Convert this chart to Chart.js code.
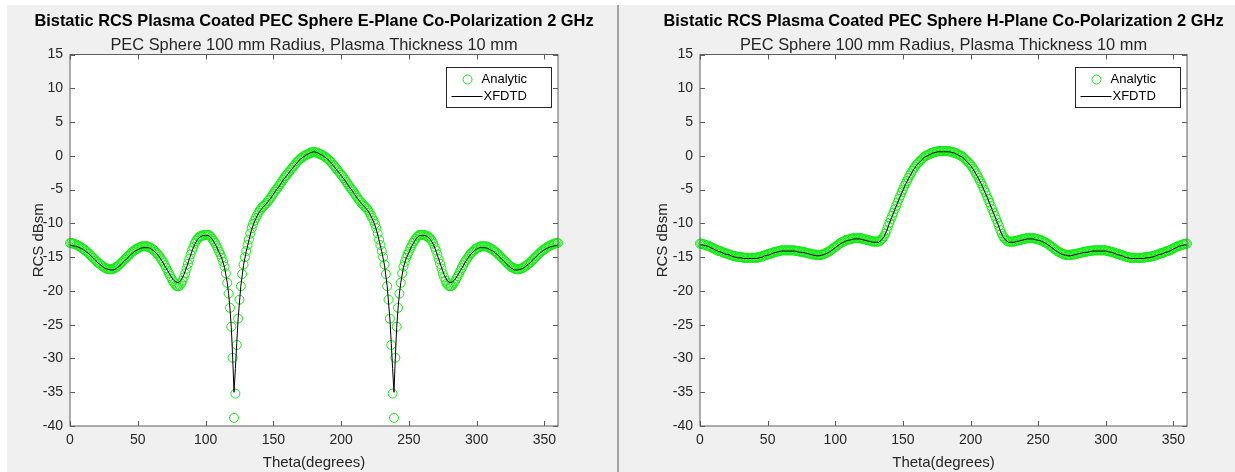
<!DOCTYPE html>
<html>
<head>
<meta charset="utf-8">
<title>Bistatic RCS Plasma Coated PEC Sphere</title>
<script src="https://cdn.jsdelivr.net/npm/chart.js@4.4.1/dist/chart.umd.min.js"></script>
<style>
  html, body { margin: 0; padding: 0; background: #ffffff; }
  body { position: relative; width: 1235px; height: 472px; overflow: hidden; }
  .panel { position: absolute; background: #f0f0f0; }
  #panelE { left: 7px; top: 5px; width: 610px; height: 467px; }
  #panelH { left: 619px; top: 5px; width: 616px; height: 467px; }
  #divider { position: absolute; left: 617px; top: 5px; width: 2px; height: 467px; background: #a3a3a3; }
  canvas { position: absolute; top: 0; }
  #chartE { left: 0; }
  #chartH { left: 617px; }
</style>
</head>
<body>
<div class="panel" id="panelE"></div>
<div id="divider"></div>
<div class="panel" id="panelH"></div>
<canvas id="chartE" width="617" height="472"></canvas>
<canvas id="chartH" width="618" height="472"></canvas>

<script>
// scattering angle, degrees (analytic solution is sampled every degree)
const thetaDeg = [
  0,1,2,3,4,5,6,7,8,9,10,11,12,13,14,15,16,17,18,19,
  20,21,22,23,24,25,26,27,28,29,30,31,32,33,34,35,36,37,38,39,
  40,41,42,43,44,45,46,47,48,49,50,51,52,53,54,55,56,57,58,59,
  60,61,62,63,64,65,66,67,68,69,70,71,72,73,74,75,76,77,78,79,
  80,81,82,83,84,85,86,87,88,89,90,91,92,93,94,95,96,97,98,99,
  100,101,102,103,104,105,106,107,108,109,110,111,112,113,114,115,116,117,118,119,
  120,121,122,123,124,125,126,127,128,129,130,131,132,133,134,135,136,137,138,139,
  140,141,142,143,144,145,146,147,148,149,150,151,152,153,154,155,156,157,158,159,
  160,161,162,163,164,165,166,167,168,169,170,171,172,173,174,175,176,177,178,179,
  180,181,182,183,184,185,186,187,188,189,190,191,192,193,194,195,196,197,198,199,
  200,201,202,203,204,205,206,207,208,209,210,211,212,213,214,215,216,217,218,219,
  220,221,222,223,224,225,226,227,228,229,230,231,232,233,234,235,236,237,238,239,
  240,241,242,243,244,245,246,247,248,249,250,251,252,253,254,255,256,257,258,259,
  260,261,262,263,264,265,266,267,268,269,270,271,272,273,274,275,276,277,278,279,
  280,281,282,283,284,285,286,287,288,289,290,291,292,293,294,295,296,297,298,299,
  300,301,302,303,304,305,306,307,308,309,310,311,312,313,314,315,316,317,318,319,
  320,321,322,323,324,325,326,327,328,329,330,331,332,333,334,335,336,337,338,339,
  340,341,342,343,344,345,346,347,348,349,350,351,352,353,354,355,356,357,358,359,
  360
];

// E-plane, analytic RCS (dBsm)
const analyticE = [
  -12.9,-12.9,-13.0,-13.0,-13.1,-13.2,-13.3,-13.4,-13.5,-13.7,
  -13.8,-14.0,-14.1,-14.3,-14.5,-14.7,-14.9,-15.1,-15.3,-15.5,
  -15.7,-15.9,-16.0,-16.2,-16.3,-16.5,-16.6,-16.7,-16.7,-16.8,
  -16.8,-16.8,-16.7,-16.6,-16.5,-16.4,-16.2,-16.0,-15.8,-15.6,
  -15.4,-15.2,-15.0,-14.8,-14.6,-14.4,-14.2,-14.1,-13.9,-13.8,
  -13.7,-13.6,-13.5,-13.4,-13.4,-13.4,-13.4,-13.4,-13.5,-13.6,
  -13.7,-13.8,-14.0,-14.2,-14.4,-14.6,-14.9,-15.2,-15.5,-15.8,
  -16.2,-16.6,-17.0,-17.4,-17.8,-18.2,-18.6,-18.9,-19.2,-19.3,
  -19.3,-19.2,-18.9,-18.5,-18.0,-17.4,-16.7,-16.0,-15.3,-14.6,
  -14.0,-13.5,-13.0,-12.6,-12.3,-12.1,-11.9,-11.9,-11.8,-11.7,
  -11.7,-11.7,-11.7,-11.8,-12.0,-12.3,-12.6,-12.9,-13.3,-13.7,
  -14.2,-14.6,-15.1,-15.7,-16.4,-17.4,-18.8,-20.4,-22.5,-25.3,
  -29.9,-38.8,-35.2,-28.0,-24.1,-21.3,-19.3,-17.5,-16.1,-15.0,
  -14.1,-13.2,-12.4,-11.5,-10.7,-10.1,-9.6,-9.2,-8.8,-8.4,
  -8.1,-7.8,-7.6,-7.4,-7.2,-7.0,-6.7,-6.5,-6.2,-5.9,
  -5.6,-5.3,-5.0,-4.8,-4.5,-4.2,-3.9,-3.6,-3.3,-3.0,
  -2.8,-2.5,-2.3,-2.0,-1.8,-1.5,-1.3,-1.0,-0.8,-0.6,
  -0.4,-0.3,-0.1,0.0,0.1,0.2,0.3,0.4,0.5,0.5,
  0.6,0.5,0.5,0.4,0.3,0.2,0.1,0.0,-0.1,-0.3,
  -0.4,-0.6,-0.8,-1.0,-1.3,-1.5,-1.8,-2.0,-2.3,-2.5,
  -2.8,-3.0,-3.3,-3.6,-3.9,-4.2,-4.5,-4.8,-5.0,-5.3,
  -5.6,-5.9,-6.2,-6.5,-6.7,-7.0,-7.2,-7.4,-7.6,-7.8,
  -8.1,-8.4,-8.8,-9.2,-9.6,-10.1,-10.7,-11.5,-12.4,-13.2,
  -14.1,-15.0,-16.1,-17.5,-19.3,-21.3,-24.1,-28.0,-35.2,-38.8,
  -29.9,-25.3,-22.5,-20.4,-18.8,-17.4,-16.4,-15.7,-15.1,-14.6,
  -14.2,-13.7,-13.3,-12.9,-12.6,-12.3,-12.0,-11.8,-11.7,-11.7,
  -11.7,-11.7,-11.8,-11.9,-11.9,-12.1,-12.3,-12.6,-13.0,-13.5,
  -14.0,-14.6,-15.3,-16.0,-16.7,-17.4,-18.0,-18.5,-18.9,-19.2,
  -19.3,-19.3,-19.2,-18.9,-18.6,-18.2,-17.8,-17.4,-17.0,-16.6,
  -16.2,-15.8,-15.5,-15.2,-14.9,-14.6,-14.4,-14.2,-14.0,-13.8,
  -13.7,-13.6,-13.5,-13.4,-13.4,-13.4,-13.4,-13.4,-13.5,-13.6,
  -13.7,-13.8,-13.9,-14.1,-14.2,-14.4,-14.6,-14.8,-15.0,-15.2,
  -15.4,-15.6,-15.8,-16.0,-16.2,-16.4,-16.5,-16.6,-16.7,-16.8,
  -16.8,-16.8,-16.7,-16.7,-16.6,-16.5,-16.3,-16.2,-16.0,-15.9,
  -15.7,-15.5,-15.3,-15.1,-14.9,-14.7,-14.5,-14.3,-14.1,-14.0,
  -13.8,-13.7,-13.5,-13.4,-13.3,-13.2,-13.1,-13.0,-13.0,-12.9,
  -12.9
];

// E-plane, XFDTD result (finer steps around the two nulls)
const thetaXfdtdE = [
  0,2,4,6,8,10,12,14,16,18,20,22,24,26,28,30,32,34,36,38,
  40,42,44,46,48,50,52,54,56,58,60,62,64,66,68,70,72,74,76,78,
  80,82,84,86,88,90,92,94,96,98,100,102,104,106,108,110,112,114,116,
  117,118,119,120,121,122,123,124,
  126,128,130,132,134,136,138,140,142,144,146,148,150,152,154,156,158,160,162,164,
  166,168,170,172,174,176,178,180,182,184,186,188,190,192,194,196,198,200,202,204,
  206,208,210,212,214,216,218,220,222,224,226,228,230,232,234,
  236,237,238,239,240,241,242,243,244,
  246,248,250,252,254,256,258,260,262,264,266,268,270,272,274,276,278,280,282,284,
  286,288,290,292,294,296,298,300,302,304,306,308,310,312,314,316,318,320,322,324,
  326,328,330,332,334,336,338,340,342,344,346,348,350,352,354,356,358,360
];
const xfdtdE = [
  -13.2,-13.3,-13.4,-13.5,-13.7,-13.9,-14.2,-14.5,-14.9,-15.3,
  -15.7,-16.1,-16.4,-16.7,-16.8,-16.9,-16.9,-16.7,-16.4,-16.0,
  -15.6,-15.2,-14.8,-14.4,-14.1,-13.9,-13.7,-13.6,-13.6,-13.6,
  -13.8,-14.1,-14.5,-15.0,-15.6,-16.3,-17.0,-17.7,-18.3,-18.7,
  -18.8,-18.4,-17.6,-16.5,-15.3,-14.1,-13.1,-12.4,-12.0,-11.8,
  -11.8,-11.8,-12.1,-12.7,-13.4,-14.3,-15.2,-16.5,-18.8,
  -20.4,-22.6,-25.4,-29.8,-35.0,-31.5,-27.8,-24.2,
  -19.3,-16.2,-14.2,-12.5,-10.9,-9.8,-8.9,-8.2,-7.7,-7.3,
  -6.8,-6.3,-5.7,-5.1,-4.6,-4.0,-3.4,-2.9,-2.4,-1.9,
  -1.4,-0.9,-0.5,-0.2,0.1,0.3,0.5,0.6,0.5,0.3,
  0.1,-0.2,-0.5,-0.9,-1.4,-1.9,-2.4,-2.9,-3.4,-4.0,
  -4.6,-5.1,-5.7,-6.3,-6.8,-7.3,-7.7,-8.2,-8.9,-9.8,
  -10.9,-12.5,-14.2,-16.2,-19.3,
  -24.2,-27.8,-31.5,-35.0,-29.8,-25.4,-22.6,-20.4,-18.8,
  -16.5,-15.2,-14.3,-13.4,-12.7,-12.1,-11.8,-11.8,-11.8,-12.0,
  -12.4,-13.1,-14.1,-15.3,-16.5,-17.6,-18.4,-18.8,-18.7,-18.3,
  -17.7,-17.0,-16.3,-15.6,-15.0,-14.5,-14.1,-13.8,-13.6,-13.6,
  -13.6,-13.7,-13.9,-14.1,-14.4,-14.8,-15.2,-15.6,-16.0,-16.4,
  -16.7,-16.9,-16.9,-16.8,-16.7,-16.4,-16.1,-15.7,-15.3,-14.9,
  -14.5,-14.2,-13.9,-13.7,-13.5,-13.4,-13.3,-13.2
];

// H-plane, analytic RCS (dBsm)
const analyticH = [
  -13.0,-13.0,-13.1,-13.1,-13.2,-13.3,-13.3,-13.4,-13.5,-13.6,
  -13.7,-13.8,-13.9,-14.0,-14.1,-14.1,-14.2,-14.3,-14.4,-14.4,
  -14.5,-14.6,-14.6,-14.7,-14.8,-14.8,-14.9,-14.9,-15.0,-15.0,
  -15.0,-15.0,-15.1,-15.1,-15.1,-15.1,-15.1,-15.1,-15.1,-15.1,
  -15.1,-15.1,-15.1,-15.0,-15.0,-14.9,-14.9,-14.8,-14.7,-14.7,
  -14.6,-14.5,-14.5,-14.4,-14.3,-14.3,-14.2,-14.2,-14.1,-14.1,
  -14.0,-14.0,-14.0,-14.0,-14.0,-14.0,-14.0,-14.0,-14.0,-14.0,
  -14.0,-14.1,-14.1,-14.1,-14.2,-14.2,-14.2,-14.3,-14.3,-14.4,
  -14.4,-14.5,-14.5,-14.6,-14.6,-14.6,-14.7,-14.7,-14.7,-14.7,
  -14.6,-14.6,-14.5,-14.4,-14.3,-14.2,-14.1,-13.9,-13.8,-13.6,
  -13.5,-13.3,-13.2,-13.0,-12.9,-12.8,-12.7,-12.6,-12.5,-12.4,
  -12.4,-12.3,-12.3,-12.2,-12.2,-12.2,-12.2,-12.2,-12.2,-12.2,
  -12.3,-12.3,-12.4,-12.4,-12.5,-12.5,-12.6,-12.6,-12.7,-12.7,
  -12.7,-12.7,-12.7,-12.6,-12.4,-12.2,-11.9,-11.5,-11.0,-10.4,
  -9.9,-9.4,-8.9,-8.4,-7.9,-7.4,-6.9,-6.4,-5.9,-5.4,
  -5.0,-4.5,-4.1,-3.7,-3.3,-2.9,-2.6,-2.2,-1.9,-1.6,
  -1.3,-1.1,-0.9,-0.7,-0.5,-0.3,-0.1,0.0,0.1,0.2,
  0.3,0.4,0.5,0.5,0.6,0.6,0.7,0.7,0.7,0.7,
  0.7,0.7,0.7,0.7,0.7,0.6,0.6,0.5,0.5,0.4,
  0.3,0.2,0.1,0.0,-0.1,-0.3,-0.5,-0.7,-0.9,-1.1,
  -1.3,-1.6,-1.9,-2.2,-2.6,-2.9,-3.3,-3.7,-4.1,-4.5,
  -5.0,-5.4,-5.9,-6.4,-6.9,-7.4,-7.9,-8.4,-8.9,-9.4,
  -9.9,-10.4,-11.0,-11.5,-11.9,-12.2,-12.4,-12.6,-12.7,-12.7,
  -12.7,-12.7,-12.7,-12.6,-12.6,-12.5,-12.5,-12.4,-12.4,-12.3,
  -12.3,-12.2,-12.2,-12.2,-12.2,-12.2,-12.2,-12.2,-12.3,-12.3,
  -12.4,-12.4,-12.5,-12.6,-12.7,-12.8,-12.9,-13.0,-13.2,-13.3,
  -13.5,-13.6,-13.8,-13.9,-14.1,-14.2,-14.3,-14.4,-14.5,-14.6,
  -14.6,-14.7,-14.7,-14.7,-14.7,-14.6,-14.6,-14.6,-14.5,-14.5,
  -14.4,-14.4,-14.3,-14.3,-14.2,-14.2,-14.2,-14.1,-14.1,-14.1,
  -14.0,-14.0,-14.0,-14.0,-14.0,-14.0,-14.0,-14.0,-14.0,-14.0,
  -14.0,-14.1,-14.1,-14.2,-14.2,-14.3,-14.3,-14.4,-14.5,-14.5,
  -14.6,-14.7,-14.7,-14.8,-14.9,-14.9,-15.0,-15.0,-15.1,-15.1,
  -15.1,-15.1,-15.1,-15.1,-15.1,-15.1,-15.1,-15.1,-15.1,-15.0,
  -15.0,-15.0,-15.0,-14.9,-14.9,-14.8,-14.8,-14.7,-14.6,-14.6,
  -14.5,-14.4,-14.4,-14.3,-14.2,-14.1,-14.1,-14.0,-13.9,-13.8,
  -13.7,-13.6,-13.5,-13.4,-13.3,-13.3,-13.2,-13.1,-13.1,-13.0,
  -13.0
];

// H-plane, XFDTD result
const thetaXfdtdH = [
  0,2,4,6,8,10,12,14,16,18,20,22,24,26,28,30,32,34,36,38,
  40,42,44,46,48,50,52,54,56,58,60,62,64,66,68,70,72,74,76,78,
  80,82,84,86,88,90,92,94,96,98,100,102,104,106,108,110,112,114,116,118,
  120,122,124,126,128,130,132,134,136,138,140,142,144,146,148,150,152,154,156,158,
  160,162,164,166,168,170,172,174,176,178,180,182,184,186,188,190,192,194,196,198,
  200,202,204,206,208,210,212,214,216,218,220,222,224,226,228,230,232,234,236,238,
  240,242,244,246,248,250,252,254,256,258,260,262,264,266,268,270,272,274,276,278,
  280,282,284,286,288,290,292,294,296,298,300,302,304,306,308,310,312,314,316,318,
  320,322,324,326,328,330,332,334,336,338,340,342,344,346,348,350,352,354,356,358,
  360
];
const xfdtdH = [
  -13.2,-13.2,-13.3,-13.4,-13.6,-13.8,-14.0,-14.2,-14.3,-14.5,
  -14.6,-14.7,-14.9,-15.0,-15.1,-15.1,-15.2,-15.2,-15.2,-15.2,
  -15.2,-15.2,-15.1,-15.0,-14.8,-14.7,-14.6,-14.4,-14.3,-14.2,
  -14.1,-14.1,-14.1,-14.1,-14.1,-14.1,-14.2,-14.3,-14.3,-14.4,
  -14.5,-14.6,-14.7,-14.8,-14.8,-14.7,-14.6,-14.4,-14.2,-13.9,
  -13.6,-13.3,-13.0,-12.8,-12.6,-12.5,-12.4,-12.3,-12.3,-12.3,
  -12.4,-12.5,-12.6,-12.7,-12.8,-12.8,-12.8,-12.5,-12.0,-11.1,
  -10.0,-9.0,-8.0,-7.0,-6.0,-5.1,-4.2,-3.4,-2.7,-2.0,
  -1.4,-1.0,-0.6,-0.2,0.0,0.2,0.4,0.5,0.6,0.6,
  0.6,0.6,0.6,0.5,0.4,0.2,0.0,-0.2,-0.6,-1.0,
  -1.4,-2.0,-2.7,-3.4,-4.2,-5.1,-6.0,-7.0,-8.0,-9.0,
  -10.0,-11.1,-12.0,-12.5,-12.8,-12.8,-12.8,-12.7,-12.6,-12.5,
  -12.4,-12.3,-12.3,-12.3,-12.4,-12.5,-12.6,-12.8,-13.0,-13.3,
  -13.6,-13.9,-14.2,-14.4,-14.6,-14.7,-14.8,-14.8,-14.7,-14.6,
  -14.5,-14.4,-14.3,-14.3,-14.2,-14.1,-14.1,-14.1,-14.1,-14.1,
  -14.1,-14.2,-14.3,-14.4,-14.6,-14.7,-14.8,-15.0,-15.1,-15.2,
  -15.2,-15.2,-15.2,-15.2,-15.2,-15.1,-15.1,-15.0,-14.9,-14.7,
  -14.6,-14.5,-14.3,-14.2,-14.0,-13.8,-13.6,-13.4,-13.3,-13.2,
  -13.2
];

const xTicks = [0, 50, 100, 150, 200, 250, 300, 350];
const yTicks = [-40, -35, -30, -25, -20, -15, -10, -5, 0, 5, 10, 15];

const FONT = '"Liberation Sans", Arial, Helvetica, sans-serif';
const GREEN = 'rgb(20, 235, 20)';
const AXIS_COLOR = '#5e5e5e';
const TEXT_COLOR = '#262626';
const SUBTITLE = 'PEC Sphere 100 mm Radius, Plasma Thickness 10 mm';

// MATLAB-style axes: white plot box, inward ticks on all four sides,
// titles over the box and a boxed legend in the top right corner
const matlabAxes = {
  id: 'matlabAxes',
  beforeDraw(chart, args, opts) {
    const { ctx, chartArea: a } = chart;
    ctx.save();
    ctx.fillStyle = '#ffffff';
    ctx.fillRect(a.left, a.top, a.width, a.height);

    const cx = (a.left + a.right) / 2;
    ctx.fillStyle = '#000000';
    ctx.textAlign = 'center';
    ctx.textBaseline = 'middle';
    ctx.font = 'bold 16.4px ' + FONT;
    ctx.fillText(opts.title, cx, opts.titleY);
    ctx.font = '16.4px ' + FONT;
    ctx.fillStyle = TEXT_COLOR;
    ctx.fillText(opts.subtitle, cx, opts.subtitleY);
    ctx.restore();
  },
  afterDatasetsDraw(chart, args, opts) {
    const { ctx, chartArea: a, scales: { x, y } } = chart;
    const tick = 5;
    ctx.save();
    ctx.strokeStyle = AXIS_COLOR;
    ctx.lineWidth = 1;
    ctx.strokeRect(a.left, a.top, a.width, a.height);
    ctx.beginPath();
    xTicks.forEach(v => {
      const px = Math.round(x.getPixelForValue(v)) + 0.5;
      ctx.moveTo(px, a.bottom); ctx.lineTo(px, a.bottom - tick);
      ctx.moveTo(px, a.top); ctx.lineTo(px, a.top + tick);
    });
    yTicks.forEach(v => {
      const py = Math.round(y.getPixelForValue(v)) + 0.5;
      ctx.moveTo(a.left, py); ctx.lineTo(a.left + tick, py);
      ctx.moveTo(a.right, py); ctx.lineTo(a.right - tick, py);
    });
    ctx.stroke();

    // legend
    const [analytic, xfdtd] = chart.data.datasets;
    const w = 105, h = 40;
    const bx = Math.round(a.right - 7 - w) + 0.5;
    const by = Math.round(a.top + 12) + 0.5;
    ctx.fillStyle = '#ffffff';
    ctx.fillRect(bx, by, w, h);
    ctx.strokeStyle = '#262626';
    ctx.strokeRect(bx, by, w, h);

    const row1 = by + 12, row2 = by + 29;
    ctx.beginPath();
    ctx.arc(bx + 21, row1, 4.5, 0, Math.PI * 2);
    ctx.strokeStyle = GREEN;
    ctx.stroke();
    ctx.beginPath();
    ctx.moveTo(bx + 5, row2);
    ctx.lineTo(bx + 36, row2);
    ctx.strokeStyle = '#000000';
    ctx.stroke();

    ctx.fillStyle = '#000000';
    ctx.font = '13px ' + FONT;
    ctx.textAlign = 'left';
    ctx.textBaseline = 'middle';
    ctx.fillText(analytic.label, bx + 35, row1);
    ctx.fillText(xfdtd.label, bx + 37, row2);
    ctx.restore();
  }
};

function pairs(xs, ys) {
  return xs.map((t, i) => ({ x: t, y: ys[i] }));
}

function makeChart(canvasId, analytic, thetaLine, line, cfg) {
  const tickFont = { family: FONT, size: 14 };
  const titleFont = { family: FONT, size: 15 };

  return new Chart(document.getElementById(canvasId), {
    type: 'scatter',
    data: {
      datasets: [
        {
          label: 'Analytic',
          data: pairs(thetaDeg, analytic),
          showLine: false,
          pointStyle: 'circle',
          pointRadius: 4.5,
          pointBorderWidth: 1,
          pointBorderColor: GREEN,
          pointBackgroundColor: 'rgba(0,0,0,0)',
          clip: false,
          order: 2
        },
        {
          label: 'XFDTD',
          data: pairs(thetaLine, line),
          showLine: true,
          borderColor: '#000000',
          borderWidth: 1,
          pointRadius: 0,
          tension: 0,
          order: 1
        }
      ]
    },
    options: {
      responsive: false,
      animation: false,
      events: [],
      layout: { padding: { top: 54.5, right: cfg.padRight, bottom: 0, left: 0 } },
      plugins: {
        legend: { display: false },
        tooltip: { enabled: false },
        matlabAxes: { title: cfg.title, subtitle: SUBTITLE, titleY: 21.5, subtitleY: 45 }
      },
      scales: {
        x: {
          type: 'linear',
          min: 0,
          max: 360,
          afterBuildTicks: s => { s.ticks = xTicks.map(v => ({ value: v })); },
          afterFit: s => { s.height = 46; },
          grid: { display: false, drawTicks: false },
          border: { display: false },
          ticks: { color: TEXT_COLOR, font: tickFont, padding: 6, maxRotation: 0, autoSkip: false },
          title: { display: true, text: 'Theta(degrees)', color: TEXT_COLOR, font: titleFont, padding: { top: 0, bottom: 0 } }
        },
        y: {
          type: 'linear',
          min: -40,
          max: 15,
          afterBuildTicks: s => { s.ticks = yTicks.map(v => ({ value: v })); },
          afterFit: s => { s.width = cfg.yWidth; },
          grid: { display: false, drawTicks: false },
          border: { display: false },
          ticks: { color: TEXT_COLOR, font: tickFont, padding: 7, autoSkip: false },
          title: { display: true, text: 'RCS dBsm', color: TEXT_COLOR, font: titleFont, padding: { top: cfg.yTitlePad, bottom: 0 } }
        }
      }
    },
    plugins: [matlabAxes]
  });
}

makeChart('chartE', analyticE, thetaXfdtdE, xfdtdE, {
  title: 'Bistatic RCS Plasma Coated PEC Sphere E-Plane Co-Polarization 2 GHz',
  yWidth: 70, padRight: 59, yTitlePad: 30
});

makeChart('chartH', analyticH, thetaXfdtdH, xfdtdH, {
  title: 'Bistatic RCS Plasma Coated PEC Sphere H-Plane Co-Polarization 2 GHz',
  yWidth: 83, padRight: 48, yTitlePad: 37
});
</script>
</body>
</html>
